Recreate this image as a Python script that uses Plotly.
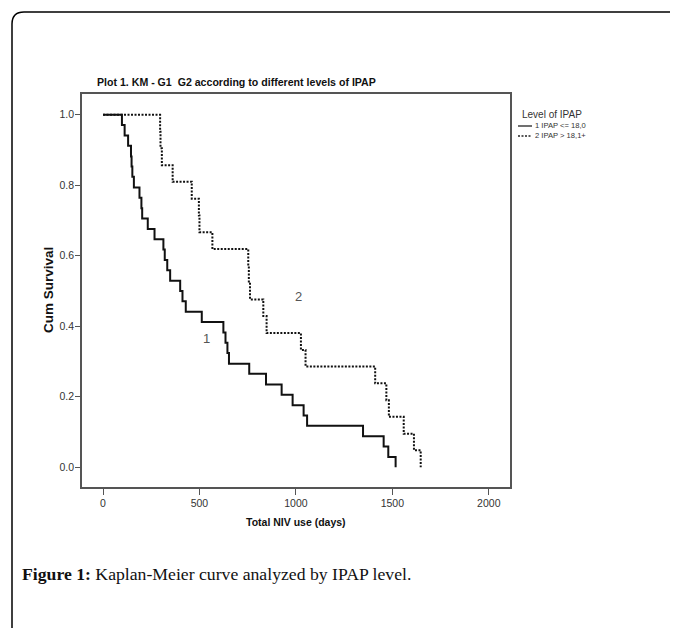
import plotly.graph_objects as go

# ---- data ----
g1_days = [0, 98, 112, 130, 145, 148, 152, 160, 189, 199, 203, 232, 267, 313, 320, 333, 348,
           400, 412, 429, 512, 624, 635, 645, 653, 758, 845, 926, 983, 1040, 1058,
           1348, 1455, 1479, 1517]
g1_surv = [1.0, 0.971, 0.941, 0.912, 0.882, 0.853, 0.824, 0.794, 0.765, 0.735, 0.706, 0.676,
           0.647, 0.618, 0.588, 0.559, 0.529, 0.500, 0.471, 0.441, 0.412, 0.382, 0.353,
           0.324, 0.294, 0.265, 0.235, 0.206, 0.176, 0.147, 0.118, 0.088, 0.059, 0.029, 0.0]

g2_days = [0, 296, 298, 305, 361, 460, 497, 500, 567, 753, 756, 762, 831, 848, 1026, 1050,
           1411, 1469, 1482, 1559, 1612, 1647]
g2_surv = [1.0, 0.952, 0.905, 0.857, 0.810, 0.762, 0.714, 0.667, 0.619, 0.571, 0.524, 0.476,
           0.429, 0.381, 0.333, 0.286, 0.238, 0.190, 0.143, 0.095, 0.048, 0.0]

x_ticks = [0, 500, 1000, 1500, 2000]
y_ticks = [0.0, 0.2, 0.4, 0.6, 0.8, 1.0]

legend_title = "Level of IPAP"
legend_labels = ["1 IPAP <= 18,0", "2 IPAP > 18,1+"]
curve_labels = ["1", "2"]
curve_label_pos = [(534, 0.365), (1012, 0.484)]

title_text = "Plot 1. KM - G1  G2 according to different levels of IPAP"
x_title = "Total NIV use (days)"
y_title = "Cum Survival"
caption_bold = "Figure 1:"
caption_rest = " Kaplan-Meier curve analyzed by IPAP level."

# ---- layout geometry (screen pixels; page body has an 8px margin) ----
OFF = 8
W, H = 678 - OFF, 628 - OFF
L, R, T, B = 82, 510, 94, 487   # plot frame in screen pixels


def px(xs):
    return (xs - L) / (R - L)


def py(ys):
    return (B - ys) / (B - T)


sans = "Liberation Sans, Arial, sans-serif"
serif = "Liberation Serif, Times New Roman, serif"
dotted = "2px,1.5px"

fig = go.Figure()
fig.add_trace(go.Scatter(
    x=g2_days, y=g2_surv, mode="lines", line_shape="hv",
    line=dict(color="#111111", width=2, dash=dotted),
    name=legend_labels[1], showlegend=False, hoverinfo="skip"))
fig.add_trace(go.Scatter(
    x=g1_days, y=g1_surv, mode="lines", line_shape="hv",
    line=dict(color="#111111", width=2),
    name=legend_labels[0], showlegend=False, hoverinfo="skip"))

shapes = []
# outer open box with rounded top-left corner
r = 12
bx, by = 12, 12
shapes.append(dict(
    type="path", xref="paper", yref="paper",
    path=(f"M{px(bx)},{py(640)} L{px(bx)},{py(by + r)} "
          f"Q{px(bx)},{py(by)} {px(bx + r)},{py(by)} L{px(690)},{py(by)}"),
    line=dict(color="#000000", width=1.5)))

# legend samples
leg_y = [126, 136]
dashes = ["solid", dotted]
for yy, d in zip(leg_y, dashes):
    shapes.append(dict(type="line", xref="paper", yref="paper",
                       x0=px(518), x1=px(532), y0=py(yy), y1=py(yy),
                       line=dict(color="#222222", width=1.3, dash=d)))

annotations = []
annotations.append(dict(text="<b>" + title_text + "</b>", xref="paper", yref="paper",
                        x=px(95), y=py(82), xanchor="left", yanchor="middle", showarrow=False,
                        font=dict(family=sans, size=10.6, color="#111111")))
annotations.append(dict(text=legend_title, xref="paper", yref="paper", x=px(520), y=py(114),
                        xanchor="left", yanchor="middle", showarrow=False,
                        font=dict(family=sans, size=10, color="#333333")))
for yy, lab in zip(leg_y, legend_labels):
    annotations.append(dict(text=lab, xref="paper", yref="paper", x=px(533), y=py(yy),
                            xanchor="left", yanchor="middle", showarrow=False,
                            font=dict(family=sans, size=7.6, color="#333333")))
for lab, (xd, yv) in zip(curve_labels, curve_label_pos):
    annotations.append(dict(text=lab, x=xd, y=yv, xref="x", yref="y", showarrow=False,
                            font=dict(family=sans, size=13, color="#555555")))
annotations.append(dict(text="<b>" + x_title + "</b>", xref="paper", yref="paper",
                        x=px(296), y=py(522), xanchor="center", yanchor="middle",
                        showarrow=False, font=dict(family=sans, size=10.5, color="#111111")))
annotations.append(dict(text="<b>" + y_title + "</b>", xref="paper", yref="paper",
                        x=px(48), y=py(290), xanchor="center", yanchor="middle", textangle=-90,
                        showarrow=False, font=dict(family=sans, size=13.5, color="#111111")))
annotations.append(dict(text=f"<b>{caption_bold}</b>{caption_rest}", xref="paper", yref="paper",
                        x=px(20), y=py(574), xanchor="left", yanchor="middle", showarrow=False,
                        font=dict(family=serif, size=17.7, color="#111111")))

axis_line = dict(showline=True, linecolor="#555555", linewidth=1.5, mirror=True,
                 showgrid=False, zeroline=False, ticks="outside", tickcolor="#555555",
                 tickwidth=1.2, tickfont=dict(family=sans, size=10.5, color="#333333"))

fig.update_layout(
    width=W, height=H,
    margin=dict(l=L - OFF, r=W - (R - OFF), t=T - OFF, b=H - (B - OFF)),
    paper_bgcolor="white", plot_bgcolor="white",
    showlegend=False,
    shapes=shapes, annotations=annotations,
    xaxis=dict(range=[-109, 2110], tickvals=x_ticks, ticktext=[str(v) for v in x_ticks],
               ticklen=6, **axis_line),
    yaxis=dict(range=[-0.056, 1.059], tickvals=y_ticks, tickformat=".1f", ticklen=5,
               ticklabelstandoff=-1, **axis_line),
)

fig.write_html("out.html")
